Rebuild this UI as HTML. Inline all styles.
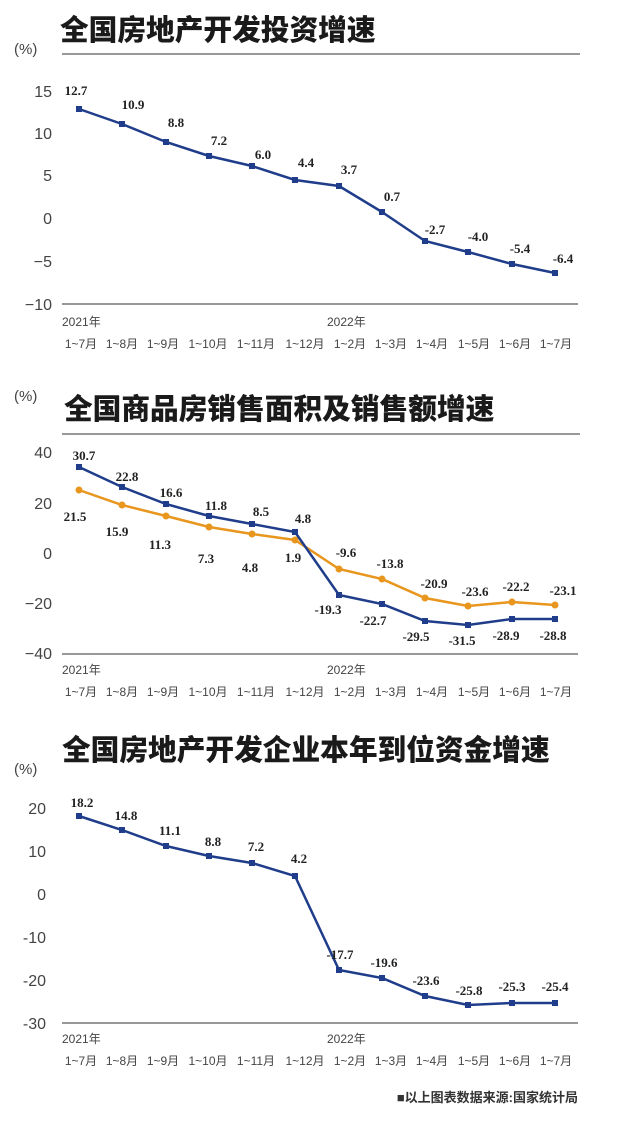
<!DOCTYPE html>
<html><head><meta charset="utf-8"><style>
html,body{margin:0;padding:0;background:#fff;}
svg{display:block;}
.t{font-family:"Liberation Sans","Noto Sans CJK SC",sans-serif;font-weight:900;font-size:28.7px;fill:#1a1a1a;}
.ax{font-family:"Liberation Sans",sans-serif;font-size:16px;fill:#444;}
.m{font-family:"Liberation Sans","Noto Sans CJK SC",sans-serif;font-size:12px;fill:#444;}
.v{font-family:"Liberation Serif",serif;font-weight:bold;font-size:13px;fill:#222;}
</style></head><body>
<svg width="641" height="1128" viewBox="0 0 641 1128" xmlns="http://www.w3.org/2000/svg">
<!-- Chart 1 -->
<text class="t" x="60" y="40">全国房地产开发投资增速</text>
<text class="ax" x="14" y="54" style="font-size:15px">(%)</text>
<line x1="62" y1="54" x2="580" y2="54" stroke="#777" stroke-width="1.5"/>
<g class="ax" text-anchor="end">
<text x="52" y="97">15</text><text x="52" y="139">10</text><text x="52" y="181">5</text>
<text x="52" y="224">0</text><text x="52" y="267">−5</text><text x="52" y="310">−10</text>
</g>
<line x1="62" y1="304" x2="578" y2="304" stroke="#777" stroke-width="1.5"/>
<polyline fill="none" stroke="#1f3d8a" stroke-width="2.5" points="79,109 122,124 166,142 209,156 252,166 295,180 339,186 382,212 425,241 468,252 512,264 555,273"/>
<g fill="#1f3d8a">
<rect x="76" y="106" width="6" height="6"/><rect x="119" y="121" width="6" height="6"/><rect x="163" y="139" width="6" height="6"/><rect x="206" y="153" width="6" height="6"/><rect x="249" y="163" width="6" height="6"/><rect x="292" y="177" width="6" height="6"/><rect x="336" y="183" width="6" height="6"/><rect x="379" y="209" width="6" height="6"/><rect x="422" y="238" width="6" height="6"/><rect x="465" y="249" width="6" height="6"/><rect x="509" y="261" width="6" height="6"/><rect x="552" y="270" width="6" height="6"/>
</g>
<g class="v" text-anchor="middle">
<text x="76" y="95">12.7</text><text x="133" y="109">10.9</text><text x="176" y="127">8.8</text><text x="219" y="145">7.2</text><text x="263" y="159">6.0</text><text x="306" y="167">4.4</text><text x="349" y="174">3.7</text><text x="392" y="201">0.7</text><text x="435" y="234">-2.7</text><text x="478" y="241">-4.0</text><text x="520" y="253">-5.4</text><text x="563" y="263">-6.4</text>
</g>
<g class="m"><text x="62" y="326">2021年</text><text x="327" y="326">2022年</text></g>
<g class="m" text-anchor="middle">
<text x="81" y="348">1~7月</text><text x="122" y="348">1~8月</text><text x="163" y="348">1~9月</text><text x="208" y="348">1~10月</text><text x="256" y="348">1~11月</text><text x="305" y="348">1~12月</text><text x="350" y="348">1~2月</text><text x="391" y="348">1~3月</text><text x="432" y="348">1~4月</text><text x="474" y="348">1~5月</text><text x="515" y="348">1~6月</text><text x="556" y="348">1~7月</text>
</g>

<!-- Chart 2 -->
<text class="ax" x="14" y="401" style="font-size:15px">(%)</text>
<text class="t" x="64" y="419">全国商品房销售面积及销售额增速</text>
<line x1="62" y1="434" x2="580" y2="434" stroke="#777" stroke-width="1.5"/>
<g class="ax" text-anchor="end">
<text x="52" y="458">40</text><text x="52" y="509">20</text><text x="52" y="559">0</text>
<text x="52" y="609">−20</text><text x="52" y="659">−40</text>
</g>
<line x1="62" y1="654" x2="578" y2="654" stroke="#777" stroke-width="1.5"/>
<polyline fill="none" stroke="#e8961e" stroke-width="2.5" points="79,490 122,505 166,516 209,527 252,534 295,540 339,569 382,579 425,598 468,606 512,602 555,605"/>
<g fill="#e8961e">
<circle cx="79" cy="490" r="3.5"/><circle cx="122" cy="505" r="3.5"/><circle cx="166" cy="516" r="3.5"/><circle cx="209" cy="527" r="3.5"/><circle cx="252" cy="534" r="3.5"/><circle cx="295" cy="540" r="3.5"/><circle cx="339" cy="569" r="3.5"/><circle cx="382" cy="579" r="3.5"/><circle cx="425" cy="598" r="3.5"/><circle cx="468" cy="606" r="3.5"/><circle cx="512" cy="602" r="3.5"/><circle cx="555" cy="605" r="3.5"/>
</g>
<polyline fill="none" stroke="#1f3d8a" stroke-width="2.5" points="79,467 122,487 166,504 209,516 252,524 295,532 339,595 382,604 425,621 468,625 512,619 555,619"/>
<g fill="#1f3d8a">
<rect x="76" y="464" width="6" height="6"/><rect x="119" y="484" width="6" height="6"/><rect x="163" y="501" width="6" height="6"/><rect x="206" y="513" width="6" height="6"/><rect x="249" y="521" width="6" height="6"/><rect x="292" y="529" width="6" height="6"/><rect x="336" y="592" width="6" height="6"/><rect x="379" y="601" width="6" height="6"/><rect x="422" y="618" width="6" height="6"/><rect x="465" y="622" width="6" height="6"/><rect x="509" y="616" width="6" height="6"/><rect x="552" y="616" width="6" height="6"/>
</g>
<g class="v" text-anchor="middle">
<text x="84" y="460">30.7</text><text x="127" y="481">22.8</text><text x="171" y="497">16.6</text><text x="216" y="510">11.8</text><text x="261" y="516">8.5</text><text x="303" y="523">4.8</text>
<text x="75" y="521">21.5</text><text x="117" y="536">15.9</text><text x="160" y="549">11.3</text><text x="206" y="563">7.3</text><text x="250" y="572">4.8</text><text x="293" y="562">1.9</text>
<text x="346" y="557">-9.6</text><text x="390" y="568">-13.8</text><text x="434" y="588">-20.9</text><text x="475" y="596">-23.6</text><text x="516" y="591">-22.2</text><text x="563" y="595">-23.1</text>
<text x="328" y="614">-19.3</text><text x="373" y="625">-22.7</text><text x="416" y="641">-29.5</text><text x="462" y="645">-31.5</text><text x="506" y="640">-28.9</text><text x="553" y="640">-28.8</text>
</g>
<g class="m"><text x="62" y="674">2021年</text><text x="327" y="674">2022年</text></g>
<g class="m" text-anchor="middle">
<text x="81" y="696">1~7月</text><text x="122" y="696">1~8月</text><text x="163" y="696">1~9月</text><text x="208" y="696">1~10月</text><text x="256" y="696">1~11月</text><text x="305" y="696">1~12月</text><text x="350" y="696">1~2月</text><text x="391" y="696">1~3月</text><text x="432" y="696">1~4月</text><text x="474" y="696">1~5月</text><text x="515" y="696">1~6月</text><text x="556" y="696">1~7月</text>
</g>

<!-- Chart 3 -->
<text class="t" x="62" y="760">全国房地产开发企业本年到位资金增速</text>
<text class="ax" x="14" y="774" style="font-size:15px">(%)</text>
<g class="ax" text-anchor="end">
<text x="46" y="814">20</text><text x="46" y="857">10</text><text x="46" y="900">0</text>
<text x="46" y="943">-10</text><text x="46" y="986">-20</text><text x="46" y="1029">-30</text>
</g>
<line x1="62" y1="1023" x2="578" y2="1023" stroke="#777" stroke-width="1.5"/>
<polyline fill="none" stroke="#1f3d8a" stroke-width="2.5" points="79,816 122,830 166,846 209,856 252,863 295,876 339,970 382,978 425,996 468,1005 512,1003 555,1003"/>
<g fill="#1f3d8a">
<rect x="76" y="813" width="6" height="6"/><rect x="119" y="827" width="6" height="6"/><rect x="163" y="843" width="6" height="6"/><rect x="206" y="853" width="6" height="6"/><rect x="249" y="860" width="6" height="6"/><rect x="292" y="873" width="6" height="6"/><rect x="336" y="967" width="6" height="6"/><rect x="379" y="975" width="6" height="6"/><rect x="422" y="993" width="6" height="6"/><rect x="465" y="1002" width="6" height="6"/><rect x="509" y="1000" width="6" height="6"/><rect x="552" y="1000" width="6" height="6"/>
</g>
<g class="v" text-anchor="middle">
<text x="82" y="807">18.2</text><text x="126" y="820">14.8</text><text x="170" y="835">11.1</text><text x="213" y="846">8.8</text><text x="256" y="851">7.2</text><text x="299" y="863">4.2</text><text x="340" y="959">-17.7</text><text x="384" y="967">-19.6</text><text x="426" y="985">-23.6</text><text x="469" y="995">-25.8</text><text x="512" y="991">-25.3</text><text x="555" y="991">-25.4</text>
</g>
<g class="m"><text x="62" y="1043">2021年</text><text x="327" y="1043">2022年</text></g>
<g class="m" text-anchor="middle">
<text x="81" y="1065">1~7月</text><text x="122" y="1065">1~8月</text><text x="163" y="1065">1~9月</text><text x="208" y="1065">1~10月</text><text x="256" y="1065">1~11月</text><text x="305" y="1065">1~12月</text><text x="350" y="1065">1~2月</text><text x="391" y="1065">1~3月</text><text x="432" y="1065">1~4月</text><text x="474" y="1065">1~5月</text><text x="515" y="1065">1~6月</text><text x="556" y="1065">1~7月</text>
</g>
<text x="578" y="1102" text-anchor="end" style="font-family:'Liberation Sans','Noto Sans CJK SC',sans-serif;font-size:13px;font-weight:bold;fill:#333">■以上图表数据来源:国家统计局</text>
</svg>
</body></html>
